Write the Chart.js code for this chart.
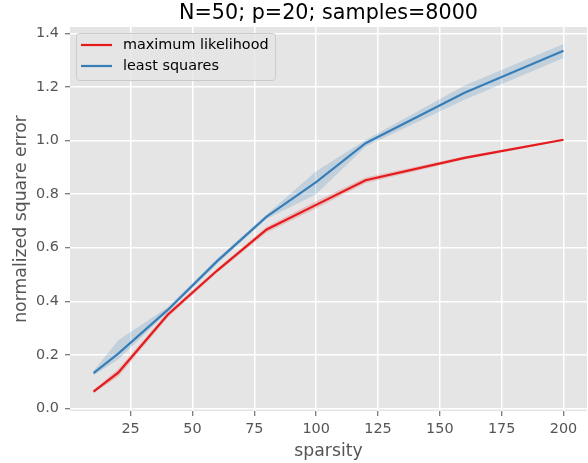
<!DOCTYPE html>
<html>
<head>
<meta charset="utf-8">
<script src="https://cdn.jsdelivr.net/npm/chart.js@4"></script>
<style>
    body { margin: 0; background: white; }
    #wrap { width: 588px; height: 463px; }
</style>
</head>
<body>
<div id="wrap"><canvas id="chartCanvasId"></canvas></div>
<script>
"use strict";

// values
const sparsity = [10, 20, 40, 60, 80, 100, 120, 160, 200]

const mlMean = [0.063, 0.134, 0.350, 0.515, 0.668, 0.760, 0.852, 0.935, 1.003]
const mlLow  = [0.057, 0.120, 0.340, 0.507, 0.657, 0.747, 0.842, 0.929, 0.999]
const mlHigh = [0.069, 0.148, 0.360, 0.523, 0.678, 0.773, 0.862, 0.941, 1.007]

const lsMean = [0.132, 0.205, 0.368, 0.550, 0.716, 0.845, 0.990, 1.178, 1.335]
const lsLow  = [0.124, 0.183, 0.360, 0.540, 0.708, 0.800, 0.978, 1.152, 1.308]
const lsHigh = [0.140, 0.255, 0.378, 0.560, 0.724, 0.885, 1.002, 1.205, 1.360]

const xTicks = [25, 50, 75, 100, 125, 150, 175, 200]
const yTicks = [0.0, 0.2, 0.4, 0.6, 0.8, 1.0, 1.2, 1.4]

const chartTitle = "N=50; p=20; samples=8000"
const seriesNames = ["maximum likelihood", "least squares"]

const red  = "#e41a1c"
const blue = "#377eb8"
const fontFamily = "'DejaVu Sans', sans-serif"

function pts(ys) {
    return sparsity.map((x, i) => ({ x: x, y: ys[i] }))
}

// gray panel behind the plot, title and legend on top
const ggplotPanel = {
    id: "ggplotPanel",
    beforeDraw(chart) {
        const a = chart.chartArea
        const ctx = chart.ctx
        ctx.save()
        ctx.fillStyle = "#e5e5e5"
        ctx.fillRect(a.left, a.top, a.right - a.left, a.bottom - a.top)
        ctx.restore()
    },
    afterDraw(chart) {
        const a = chart.ctx ? chart.chartArea : null
        const ctx = chart.ctx
        ctx.save()
        // title
        ctx.fillStyle = "#000"
        ctx.font = "20.7px " + fontFamily
        ctx.textAlign = "center"
        ctx.textBaseline = "middle"
        ctx.fillText(chartTitle, (a.left + a.right) / 2, 13.5)

        // legend box
        const bx = a.left + 6.5, by = a.top + 6.5, bw = 199, bh = 47
        ctx.beginPath()
        ctx.roundRect(bx, by, bw, bh, 3)
        ctx.fillStyle = "rgba(229,229,229,0.8)"
        ctx.fill()
        ctx.strokeStyle = "#cccccc"
        ctx.lineWidth = 1
        ctx.stroke()

        const colors = [red, blue]
        ctx.font = "14.4px " + fontFamily
        ctx.textAlign = "left"
        for (let i = 0; i < seriesNames.length; i++) {
            const ly = a.top + 18 + i * 21
            ctx.strokeStyle = colors[i]
            ctx.lineWidth = 2.2
            ctx.beginPath()
            ctx.moveTo(a.left + 11, ly)
            ctx.lineTo(a.left + 42, ly)
            ctx.stroke()
            ctx.fillStyle = "#000"
            ctx.fillText(seriesNames[i], a.left + 53, ly)
        }
        ctx.restore()
    }
}

const chartCanvas  = document.getElementById("chartCanvasId")
const chartContext = chartCanvas.getContext("2d")

Chart.defaults.font.family = fontFamily
Chart.defaults.color = "#555555"

const myChart = new Chart(chartContext, {
    type: "line",
    data: {
        datasets: [
            { label: seriesNames[0], data: pts(mlMean), borderColor: red, borderWidth: 2.2,
              pointRadius: 0, fill: false, order: 0 },
            { label: seriesNames[1], data: pts(lsMean), borderColor: blue, borderWidth: 2.2,
              pointRadius: 0, fill: false, order: 1 },
            { label: "ml low", data: pts(mlLow), borderWidth: 0, pointRadius: 0, fill: false, order: 2 },
            { label: "ml high", data: pts(mlHigh), borderWidth: 0, pointRadius: 0,
              fill: "-1", backgroundColor: "rgba(228,26,28,0.2)", order: 3 },
            { label: "ls low", data: pts(lsLow), borderWidth: 0, pointRadius: 0, fill: false, order: 4 },
            { label: "ls high", data: pts(lsHigh), borderWidth: 0, pointRadius: 0,
              fill: "-1", backgroundColor: "rgba(55,126,184,0.2)", order: 5 },
        ]
    },
    options: {
        responsive: true,
        maintainAspectRatio: false,
        animation: false,
        layout: { padding: { top: 27, right: 1, left: 0, bottom: 0 } },
        plugins: {
            legend: { display: false },
            title: { display: false },
            tooltip: { enabled: false }
        },
        scales: {
            x: {
                type: "linear",
                min: 0.5,
                max: 209.5,
                afterBuildTicks: (axis) => { axis.ticks = xTicks.map(v => ({ value: v })) },
                afterFit: (axis) => { axis.height = 52 },
                ticks: { font: { size: 14.4 }, color: "#555555", padding: 5, maxRotation: 0 },
                grid: { color: "#ffffff", lineWidth: 1.5, drawTicks: true, tickLength: 5,
                        tickColor: "#555555", tickWidth: 1 },
                border: { display: false },
                title: { display: true, text: "sparsity", font: { size: 17.3 }, color: "#555555",
                         padding: { top: 0, bottom: 1 } }
            },
            y: {
                min: -0.009,
                max: 1.4235,
                afterBuildTicks: (axis) => { axis.ticks = yTicks.map(v => ({ value: v })) },
                afterFit: (axis) => { axis.width = 70 },
                ticks: { font: { size: 14.4 }, color: "#555555", padding: 6,
                         callback: (v) => v.toFixed(1) },
                grid: { color: "#ffffff", lineWidth: 1.5, drawTicks: true, tickLength: 5,
                        tickColor: "#555555", tickWidth: 1 },
                border: { display: false },
                title: { display: true, text: "normalized square error", font: { size: 17.3 },
                         color: "#555555", padding: { top: 11.5, bottom: 0 } }
            }
        }
    },
    plugins: [ggplotPanel]
})
</script>
</body>
</html>
